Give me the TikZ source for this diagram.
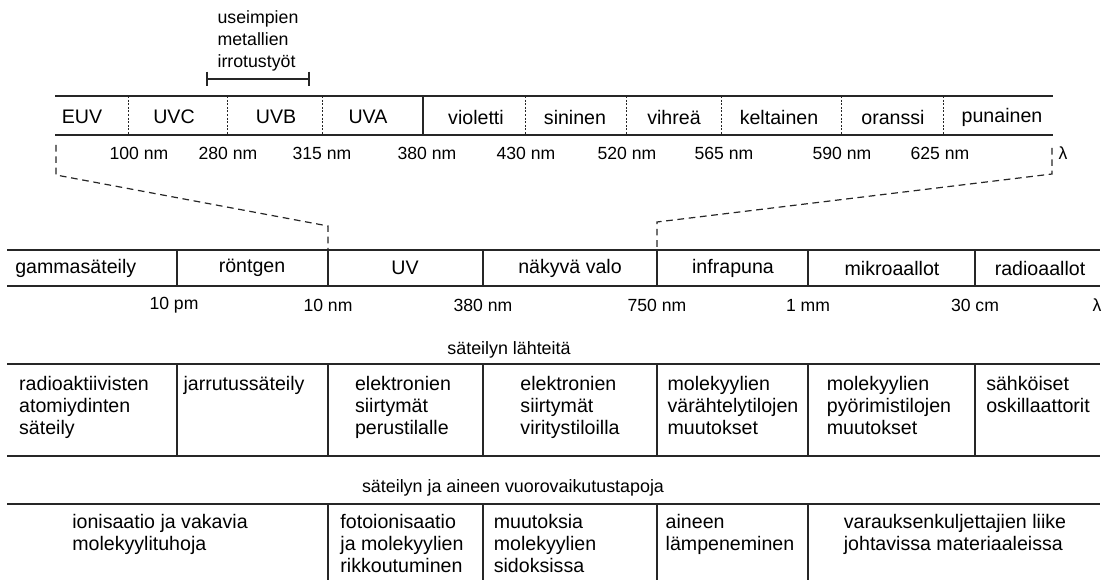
\documentclass[tikz,border=0pt]{standalone}
\usepackage{fontspec}
\setmainfont{Liberation Sans}
\begin{document}
\begin{tikzpicture}[x=0.75pt,y=-0.75pt,
  font=\fontsize{14.7}{16.5}\selectfont,
  bar/.style={line width=1.1pt, draw=black!85},
  sep/.style={line width=0.9pt, draw=black!85},
  dotsep/.style={line width=0.6pt, draw=black!85, dash pattern=on 1.5pt off 1.2pt},
  zoomline/.style={line width=0.9pt, draw=black!85, dash pattern=on 5pt off 3.5pt},
  lbl/.style={inner sep=0pt, anchor=center},
  num/.style={inner sep=0pt, anchor=center, font=\fontsize{13.2}{16.5}\selectfont},
  cell/.style={align=left, anchor=north, inner sep=0pt},
  title/.style={inner sep=0pt, font=\fontsize{13.4}{16}\selectfont}]
\useasboundingbox (0,0) rectangle (1103,580);

% ---- bracket ----
\coordinate (bl) at (207,79);
\coordinate (br) at (309,79);
\draw[sep] (bl) -- (br);
\draw[sep] ([yshift=5.5pt]bl) -- ([yshift=-5.5pt]bl);
\draw[sep] ([yshift=5.5pt]br) -- ([yshift=-5.5pt]br);
\node[cell, anchor=south, font=\fontsize{13.3}{16.5}\selectfont] (wf) at (258,71) {useimpien\\metallien\\irrotustyöt};

% ---- top bar ----
\draw[bar] (55,96) -- (1053,96);
\draw[bar] (55,135) -- (1053,135);
\foreach \x in {128,227,322,525,626,721,841,943}
  \draw[dotsep] (\x,96) -- (\x,135);
\draw[sep] (423,96) -- (423,135);
\node[lbl] (euv) at (82,117) {EUV};
\node[lbl] (uvc) at (174,117) {UVC};
\node[lbl] (uvb) at (276,117) {UVB};
\node[lbl] (uva) at (368,117) {UVA};
\node[lbl] (vio) at (476,117) {violetti};
\node[lbl] (sin) at (575,117) {sininen};
\node[lbl] (vih) at (674,117) {vihreä};
\node[lbl] (kel) at (779,117) {keltainen};
\node[lbl] (ora) at (893,117) {oranssi};
\node[lbl] (pun) at (1002,117) {punainen};

\node[num] at (139,153) {100 nm};
\node[num] at (228,153) {280 nm};
\node[num] at (322,153) {315 nm};
\node[num] at (427,153) {380 nm};
\node[num] at (526,153) {430 nm};
\node[num] at (627,153) {520 nm};
\node[num] at (724,153) {565 nm};
\node[num] at (842,153) {590 nm};
\node[num] at (940,153) {625 nm};
\node[num] (lam1) at (1063,153) {λ};

% ---- zoom connectors ----
\coordinate (zl1) at (56,145);
\coordinate (zl2) at (56,175);
\coordinate (zl3) at (328,226);
\coordinate (zl4) at (328,250);
\coordinate (zr1) at (1052,148);
\coordinate (zr2) at (1052,174);
\coordinate (zr3) at (657,222);
\coordinate (zr4) at (657,250);
\draw[zoomline] (zl1) -- (zl2) -- (zl3) -- (zl4);
\draw[zoomline] (zr1) -- (zr2) -- (zr3) -- (zr4);

% ---- main bar ----
\draw[bar] (7,250) -- (1100,250);
\draw[bar] (7,286) -- (1100,286);
\foreach \x in {177,328,483,657,808,975}
  \draw[sep] (\x,250) -- (\x,286);
\node[lbl, anchor=west] (gam) at (15,268) {gammasäteily};
\node[lbl] (ron) at (252,268) {röntgen};
\node[lbl] (uv) at (405,268) {UV};
\node[lbl] (nak) at (570,268) {näkyvä valo};
\node[lbl] (inf) at (733,268) {infrapuna};
\node[lbl] (mik) at (892,268) {mikroaallot};
\node[lbl] (rad) at (1040,268) {radioaallot};

\node[num] at (174,305) {10 pm};
\node[num] at (328,305) {10 nm};
\node[num] at (483,305) {380 nm};
\node[num] at (657,305) {750 nm};
\node[num] at (808,305) {1 mm};
\node[num] at (975,305) {30 cm};
\node[num] (lam2) at (1097,305) {λ};

% ---- sources table ----
\node[title] (t1) at (509,350) {säteilyn lähteitä};
\draw[bar] (7,364) -- (1100,364);
\draw[bar] (7,456) -- (1100,456);
\foreach \x in {177,328,483,657,808,975}
  \draw[sep] (\x,364) -- (\x,456);
\node[cell] (s1) at (84,376) {radioaktiivisten\\atomiydinten\\säteily};
\node[cell] (s2) at (244,376) {jarrutussäteily};
\node[cell] (s3) at (403,376) {elektronien\\siirtymät\\perustilalle};
\node[cell] (s4) at (570,376) {elektronien\\siirtymät\\viritystiloilla};
\node[cell] (s5) at (733,376) {molekyylien\\värähtelytilojen\\muutokset};
\node[cell] (s6) at (889,376) {molekyylien\\pyörimistilojen\\muutokset};
\node[cell] (s7) at (1038,376) {sähköiset\\oskillaattorit};

% ---- interactions table ----
\node[title] (t2) at (513,488) {säteilyn ja aineen vuorovaikutustapoja};
\draw[bar] (7,504) -- (1100,504);
\foreach \x in {328,483,657,808}
  \draw[sep] (\x,504) -- (\x,580);
\node[cell] (i1) at (160,514) {ionisaatio ja vakavia\\molekyylituhoja};
\node[cell] (i2) at (402,514) {fotoionisaatio\\ja molekyylien\\rikkoutuminen};
\node[cell] (i3) at (545,514) {muutoksia\\molekyylien\\sidoksissa};
\node[cell] (i4) at (730,514) {aineen\\lämpeneminen};
\node[cell] (i5) at (955,514) {varauksenkuljettajien liike\\johtavissa materiaaleissa};
\end{tikzpicture}
\end{document}
